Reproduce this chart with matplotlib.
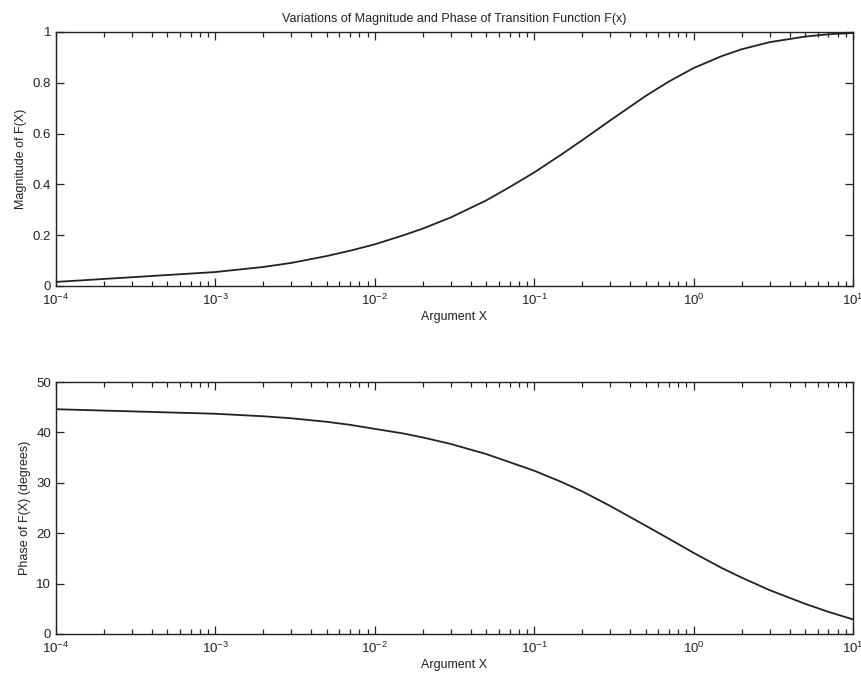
import matplotlib
matplotlib.use("Agg")
import matplotlib.pyplot as plt
from matplotlib.ticker import LogLocator, NullFormatter

plt.rcParams['font.family'] = ['Liberation Sans', 'DejaVu Sans']
plt.rcParams['mathtext.fontset'] = 'custom'
plt.rcParams['mathtext.rm'] = 'Liberation Sans'
plt.rcParams['mathtext.it'] = 'Liberation Sans:italic'

x_vals = [1e-4, 1e-3, 2e-3, 3e-3, 5e-3, 7e-3, 1e-2, 1.5e-2, 2e-2, 3e-2, 5e-2, 7e-2,
          0.1, 0.15, 0.2, 0.3, 0.5, 0.7, 1, 1.5, 2, 3, 5, 7, 10]
magnitude = [0.016, 0.055, 0.075, 0.091, 0.118, 0.139, 0.164, 0.199, 0.226, 0.270, 0.337, 0.389,
             0.447, 0.520, 0.574, 0.652, 0.748, 0.805, 0.858, 0.905, 0.932, 0.960, 0.982, 0.991, 0.996]
phase_deg = [44.6, 43.7, 43.2, 42.8, 42.1, 41.5, 40.7, 39.8, 39.0, 37.7, 35.7, 34.1,
             32.4, 30.1, 28.3, 25.4, 21.5, 18.9, 16.1, 13.1, 11.2, 8.7, 6.0, 4.4, 2.9]

title = "Variations of Magnitude and Phase of Transition Function F(x)"
xlabel = "Argument X"
ylabel_top = "Magnitude of F(X)"
ylabel_bot = "Phase of F(X) (degrees)"

fig = plt.figure(figsize=(8.61, 6.84), dpi=100)
W, H = 861, 684
def rect(l, t, r, b):
    return [l / W, 1 - b / H, (r - l) / W, (b - t) / H]

ax1 = fig.add_axes(rect(56, 32, 853, 286))
ax2 = fig.add_axes(rect(56, 382, 853, 634))

lc = '#222222'
ax1.plot(x_vals, magnitude, color=lc, lw=1.3)
ax2.plot(x_vals, phase_deg, color=lc, lw=1.3)

for ax in (ax1, ax2):
    ax.set_xscale('log')
    ax.set_xlim(1e-4, 10)
    ax.xaxis.set_major_locator(LogLocator(base=10, numticks=10))
    ax.xaxis.set_minor_locator(LogLocator(base=10, subs=range(2, 10), numticks=20))
    ax.xaxis.set_minor_formatter(NullFormatter())
    ax.tick_params(which='both', direction='in', top=True, right=True,
                   labelsize=9.5, colors='#222222', width=0.9)
    ax.tick_params(which='major', length=6)
    ax.tick_params(which='minor', length=3.5)
    ax.tick_params(axis='x', pad=5)
    for s in ax.spines.values():
        s.set_linewidth(1.0)
        s.set_color('#222222')
    ax.set_xlabel(xlabel, fontsize=9, color='#222222', labelpad=2)

ax1.set_ylim(0, 1)
ax1.set_yticks([0, 0.2, 0.4, 0.6, 0.8, 1])
ax1.set_yticklabels(['0', '0.2', '0.4', '0.6', '0.8', '1'])
ax1.set_ylabel(ylabel_top, fontsize=9, color='#222222', labelpad=4)
ax1.set_title(title, fontsize=9, color='#222222', pad=7)

ax2.set_ylim(0, 50)
ax2.set_yticks([0, 10, 20, 30, 40, 50])
ax2.set_ylabel(ylabel_bot, fontsize=9, color='#222222', labelpad=4)

fig.savefig('out.png', dpi=100, facecolor='white')
